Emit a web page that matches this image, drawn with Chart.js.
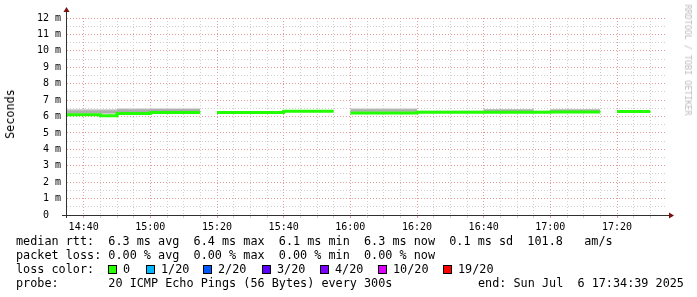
<!DOCTYPE html>
<html lang="en">
<head>
<meta charset="UTF-8">
<title>SmokePing median rtt</title>
<script src="https://cdn.jsdelivr.net/npm/chart.js"></script>
<style>
  body { margin: 0; background: #fff; }
  #wrap { position: relative; width: 697px; height: 297px; font-family: 'DejaVu Sans Mono', monospace; color: #000; overflow: hidden; }
  #wrap canvas { position: absolute; left: 0; top: 0; }
  .txt { position: absolute; white-space: pre; font-size: 11.8px; line-height: 14px; }
  .box { position: absolute; top: 265px; width: 7px; height: 7px; border: 1px solid #000; }
  #ylab { position: absolute; left: 10px; top: 114px; white-space: pre; font-size: 11.8px;
          transform: translate(-50%, -50%) rotate(-90deg); }
  #mark { position: absolute; left: 688px; top: 60px; white-space: pre; font-size: 8.4px; color: #bcbcbc;
          transform: translate(-50%, -50%) rotate(90deg); }
</style>
</head>
<body>
<div id="wrap">
  <canvas id="smoke" width="697" height="297"></canvas>
  <div id="ylab">Seconds</div>
  <div id="mark">RRDTOOL / TOBI OETIKER</div>
  <div class="txt" style="left:16px; top:234px">median rtt:  6.3 ms avg  6.4 ms max  6.1 ms min  6.3 ms now  0.1 ms sd  101.8   am/s</div>
  <div class="txt" style="left:16px; top:248px">packet loss: 0.00 % avg  0.00 % max  0.00 % min  0.00 % now</div>
  <div class="txt" style="left:16px; top:262px">loss color:</div>
  <div id="lossRow"></div>
  <div class="txt" style="left:16px; top:276px">probe:       20 ICMP Echo Pings (56 Bytes) every 300s</div>
  <div class="txt" style="left:478px; top:276px">end: Sun Jul  6 17:34:39 2025</div>
</div>

<script>
// 5 minute steps starting 14:35 (minutes after 14:00), null = no data
const startMin = 35;
const stepMin = 5;
const median   = [6.10, 6.10, 6.05, 6.18, 6.18, 6.25, 6.25, 6.25, null,
                  6.24, 6.24, 6.24, 6.24, 6.32, 6.32, 6.32, null,
                  6.22, 6.22, 6.22, 6.22, 6.26, 6.26, 6.26, 6.26, 6.26, 6.26, 6.26, 6.26,
                  6.28, 6.28, 6.28, null, 6.30, 6.30, null];
const smokeLo  = [6.15, 6.15, 6.15, 6.22, 6.22, 6.28, 6.28, 6.28, null,
                  6.24, 6.24, 6.24, 6.24, 6.30, 6.30, 6.30, null,
                  6.24, 6.24, 6.24, 6.24, 6.25, 6.25, 6.25, 6.25, 6.25, 6.25, 6.25, 6.25,
                  6.25, 6.25, 6.25, null, 6.28, 6.28, null];
const smokeHi  = [6.45, 6.45, 6.45, 6.50, 6.50, 6.50, 6.50, 6.50, null,
                  6.34, 6.34, 6.34, 6.34, 6.38, 6.38, 6.38, null,
                  6.50, 6.50, 6.50, 6.50, 6.36, 6.36, 6.36, 6.36, 6.45, 6.45, 6.45, 6.36,
                  6.45, 6.45, 6.45, null, 6.35, 6.35, null];
const coreLo   = [6.20, 6.20, 6.20, 6.28, 6.28, 6.32, 6.32, 6.32, null,
                  6.26, 6.26, 6.26, 6.26, 6.32, 6.32, 6.32, null,
                  6.30, 6.30, 6.30, 6.30, 6.28, 6.28, 6.28, 6.28, 6.30, 6.30, 6.30, 6.28,
                  6.30, 6.30, 6.30, null, 6.30, 6.30, null];
const coreHi   = [6.38, 6.38, 6.38, 6.44, 6.44, 6.45, 6.45, 6.45, null,
                  6.30, 6.30, 6.30, 6.30, 6.36, 6.36, 6.36, null,
                  6.44, 6.44, 6.44, 6.44, 6.33, 6.33, 6.33, 6.33, 6.42, 6.42, 6.42, 6.33,
                  6.42, 6.42, 6.42, null, 6.33, 6.33, null];

const xTickLabels = ['14:40', '15:00', '15:20', '15:40', '16:00', '16:20', '16:40', '17:00', '17:20'];
const yTickLabels = ['0  ', '1 m', '2 m', '3 m', '4 m', '5 m', '6 m', '7 m', '8 m', '9 m', '10 m', '11 m', '12 m'];

const lossLabels = ['0', '1/20', '2/20', '3/20', '4/20', '10/20', '19/20'];
const lossColors = ['#26ff00', '#00b8ff', '#0059ff', '#5e00ff', '#7e00ff', '#dd00ff', '#ff0000'];
const lossBoxX   = [108, 146, 203, 262, 320, 378, 443];

// loss colour legend
const lossRow = document.getElementById('lossRow');
lossLabels.forEach((lab, i) => {
    const b = document.createElement('div');
    b.className = 'box';
    b.style.left = lossBoxX[i] + 'px';
    b.style.background = lossColors[i];
    lossRow.appendChild(b);
    const t = document.createElement('div');
    t.className = 'txt';
    t.style.left = (lossBoxX[i] + 15) + 'px';
    t.style.top = '262px';
    t.textContent = lab;
    lossRow.appendChild(t);
});

// each 5 minute value becomes a flat step
function steps(values) {
    const pts = [];
    values.forEach((v, k) => {
        const t0 = startMin + k * stepMin;
        if (v === null) { pts.push({ x: t0 + stepMin / 2, y: null }); return; }
        pts.push({ x: t0, y: v }, { x: t0 + stepMin, y: v });
    });
    return pts;
}

const band = (data, color, fill, order) => ({
    data: steps(data), borderWidth: 0, borderColor: 'transparent', backgroundColor: color,
    fill: fill, pointRadius: 0, order: order, spanGaps: false
});

const isMajorX = v => (v - 40) % 20 === 0;

const rrdAxes = {
    id: 'rrdAxes',
    afterDraw(chart) {
        const { ctx, chartArea: a } = chart;
        ctx.save();
        ctx.strokeStyle = '#303030';
        ctx.lineWidth = 1;
        ctx.beginPath();
        ctx.moveTo(a.left - 5, a.bottom + 0.5);
        ctx.lineTo(a.right + 4, a.bottom + 0.5);
        ctx.moveTo(a.left - 0.5, a.bottom + 3);
        ctx.lineTo(a.left - 0.5, a.top - 7);
        ctx.stroke();
        ctx.fillStyle = '#7a1010';
        ctx.beginPath();
        ctx.moveTo(a.left - 3.5, a.top - 6);
        ctx.lineTo(a.left + 2.5, a.top - 6);
        ctx.lineTo(a.left - 0.5, a.top - 11);
        ctx.fill();
        ctx.beginPath();
        ctx.moveTo(a.right + 2, a.bottom - 2.5);
        ctx.lineTo(a.right + 2, a.bottom + 3.5);
        ctx.lineTo(a.right + 7, a.bottom + 0.5);
        ctx.fill();
        ctx.restore();
    }
};

new Chart(document.getElementById('smoke'), {
    type: 'line',
    data: {
        datasets: [
            { data: steps(median), borderColor: '#22ff00', borderWidth: 3, pointRadius: 0,
              fill: false, order: 0, borderCapStyle: 'butt', spanGaps: false },
            band(smokeLo, 'transparent', false, 3),
            band(smokeHi, '#d6d6d6', '-1', 3),
            band(coreLo, 'transparent', false, 2),
            band(coreHi, '#aeaeae', '-1', 2)
        ]
    },
    options: {
        responsive: false,
        animation: false,
        layout: { padding: { top: 18, right: 30, left: 0, bottom: 0 } },
        plugins: { legend: { display: false }, tooltip: { enabled: false } },
        scales: {
            x: {
                type: 'linear',
                min: startMin, max: startMin + 36 * stepMin,
                afterFit: s => { s.height = 82; },
                border: { display: false, dash: [1, 2] },
                grid: {
                    color: c => (c.tick.value === 35 || c.tick.value === 215) ? 'transparent'
                        : isMajorX(c.tick.value) ? '#e59a9a' : '#cfcfcf',
                    tickLength: 3, drawTicks: true
                },
                ticks: {
                    stepSize: 5, autoSkip: false, maxRotation: 0, padding: 3, color: '#000',
                    font: { family: 'DejaVu Sans Mono', size: 10 },
                    callback: v => isMajorX(v) ? xTickLabels[(v - 40) / 20] : ''
                }
            },
            y: {
                min: 0, max: 12,
                afterFit: s => { s.width = 67; },
                border: { display: false, dash: [1, 2] },
                grid: {
                    color: c => c.tick.value === 0 ? 'transparent'
                        : Number.isInteger(c.tick.value) ? '#e59a9a' : '#cfcfcf',
                    drawTicks: false
                },
                ticks: {
                    stepSize: 0.5, autoSkip: false, padding: 6, color: '#000',
                    font: { family: 'DejaVu Sans Mono', size: 10 },
                    callback: v => Number.isInteger(v) ? yTickLabels[v] : ''
                }
            }
        }
    },
    plugins: [rrdAxes]
});
</script>
</body>
</html>
